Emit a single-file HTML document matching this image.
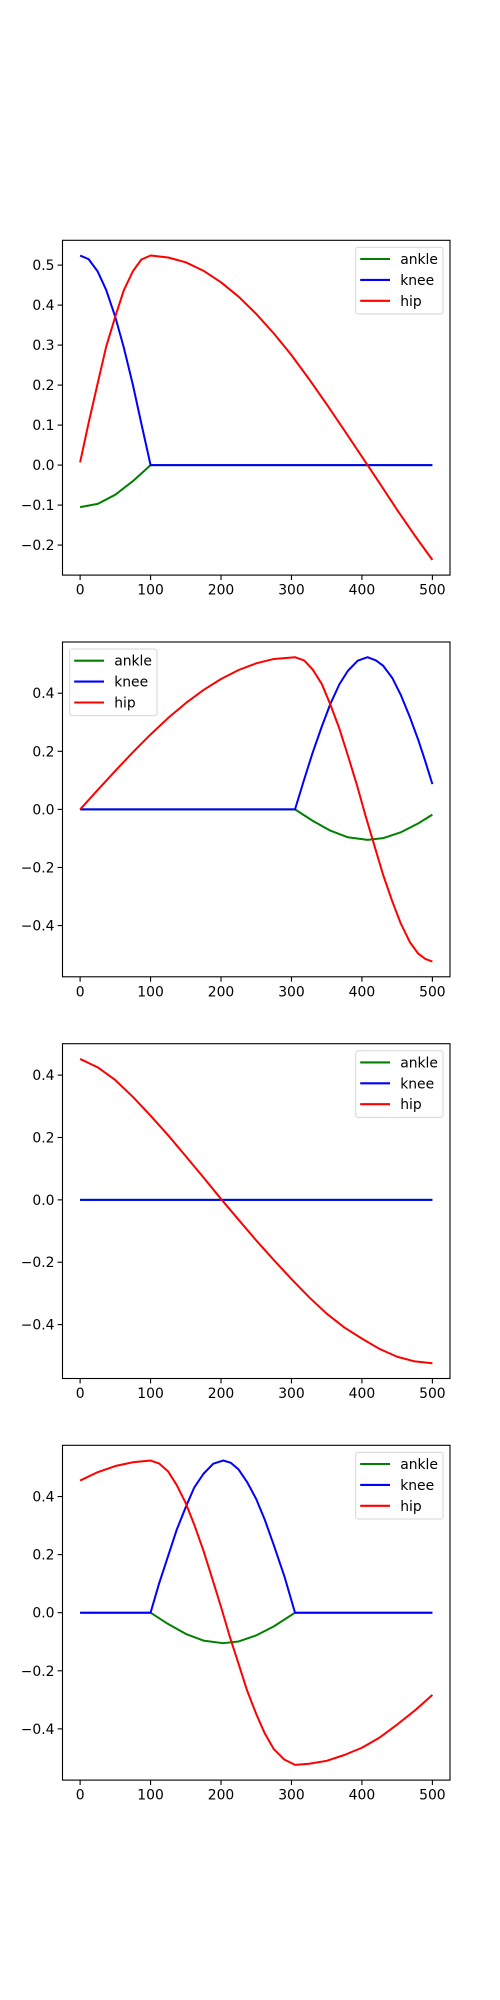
<!DOCTYPE html>
<html><head><meta charset="utf-8"><style>
html,body{margin:0;padding:0;background:#fff;}
svg{display:block;font-family:"DejaVu Sans","Liberation Sans",sans-serif;}
</style></head><body>
<svg id="fig" width="500" height="2000" xmlns="http://www.w3.org/2000/svg"></svg>
<script>
// Panel 1
const p1AnkleX=[0,25,50,75,100,500];
const p1AnkleY=[-0.105,-0.097,-0.074,-0.040,0,0];
const p1KneeX=[0,12,25,37,50,62,75,87,100,500];
const p1KneeY=[0.524,0.515,0.484,0.438,0.370,0.294,0.200,0.103,0,0];
const p1HipX=[0,12,25,37,50,62,75,87,100,125,150,175,200,225,250,275,300,325,350,375,400,425,450,475,500];
const p1HipY=[0.007,0.105,0.205,0.296,0.372,0.437,0.485,0.514,0.524,0.519,0.507,0.486,0.457,0.421,0.378,0.329,0.275,0.215,0.152,0.087,0.021,-0.045,-0.112,-0.176,-0.237];
// Panel 2
const p2AnkleX=[0,305,330,355,380,408,430,455,480,500];
const p2AnkleY=[0,0,-0.039,-0.073,-0.096,-0.105,-0.099,-0.079,-0.048,-0.018];
const p2KneeX=[0,305,318,330,343,355,368,380,394,408,420,430,443,455,468,480,490,500];
const p2KneeY=[0,0,0.103,0.195,0.285,0.362,0.431,0.477,0.512,0.524,0.513,0.495,0.453,0.395,0.318,0.239,0.165,0.087];
const p2HipX=[0,25,50,75,100,125,150,175,200,225,250,275,305,318,330,343,355,368,380,393,405,418,430,443,455,468,480,490,500];
const p2HipY=[0,0.067,0.133,0.197,0.258,0.315,0.366,0.411,0.449,0.480,0.503,0.518,0.524,0.513,0.482,0.432,0.362,0.278,0.186,0.083,-0.021,-0.127,-0.225,-0.316,-0.392,-0.457,-0.497,-0.515,-0.524];
// Panel 3
const p3AnkleX=[0,500];
const p3AnkleY=[0,0];
const p3KneeX=[0,500];
const p3KneeY=[0,0];
const p3HipX=[0,25,50,75,100,125,150,175,200,225,250,275,300,325,350,375,400,425,450,475,500];
const p3HipY=[0.452,0.425,0.384,0.330,0.270,0.207,0.140,0.072,0.003,-0.064,-0.130,-0.193,-0.254,-0.312,-0.365,-0.409,-0.445,-0.478,-0.503,-0.518,-0.524];
// Panel 4
const p4AnkleX=[0,100,125,150,175,203,225,250,275,305,500];
const p4AnkleY=[0,0,-0.039,-0.073,-0.096,-0.105,-0.099,-0.078,-0.047,0,0];
const p4KneeX=[0,100,112,125,137,150,162,175,189,203,214,225,237,250,262,275,290,305,500];
const p4KneeY=[0,0,0.100,0.196,0.285,0.364,0.431,0.478,0.513,0.524,0.516,0.493,0.450,0.391,0.321,0.232,0.125,0,0];
const p4HipX=[0,25,50,75,100,112,125,137,150,162,175,187,200,212,225,237,250,262,275,290,305,325,350,375,400,425,450,475,500];
const p4HipY=[0.455,0.484,0.505,0.518,0.524,0.514,0.486,0.440,0.377,0.303,0.214,0.122,0.020,-0.079,-0.177,-0.268,-0.349,-0.415,-0.470,-0.506,-0.524,-0.520,-0.510,-0.490,-0.465,-0.430,-0.385,-0.337,-0.283];

const panels=[
 {top:240.3,ank:[p1AnkleX,p1AnkleY],kn:[p1KneeX,p1KneeY],hip:[p1HipX,p1HipY],legend:'right'},
 {top:642,ank:[p2AnkleX,p2AnkleY],kn:[p2KneeX,p2KneeY],hip:[p2HipX,p2HipY],legend:'left'},
 {top:1043.7,ank:[p3AnkleX,p3AnkleY],kn:[p3KneeX,p3KneeY],hip:[p3HipX,p3HipY],legend:'right'},
 {top:1445.3,ank:[p4AnkleX,p4AnkleY],kn:[p4KneeX,p4KneeY],hip:[p4HipX,p4HipY],legend:'right'}
];
const xTicks=[0,100,200,300,400,500];
const NS='http://www.w3.org/2000/svg';
const fig=document.getElementById('fig');
function mk(tag,attrs,parent){const e=document.createElementNS(NS,tag);for(const k in attrs)e.setAttribute(k,attrs[k]);(parent||fig).appendChild(e);return e;}
const L=62.5,R=450,H=334.8;
function fmt(v){const s=Math.abs(v).toFixed(1);return (v<-1e-9?'\u2212':'')+s;}
panels.forEach((p,i)=>{
  const g=mk('g',{});
  
  
  const all=[].concat(p.ank[1],p.kn[1],p.hip[1]);
  let mn=Math.min(...all),mx=Math.max(...all);const m=(mx-mn)*0.05;mn-=m;mx+=m;
  const xs=v=>L+(v+25)/550*(R-L);
  const ys=v=>p.top+(mx-v)/(mx-mn)*H;
  const bottom=p.top+H;
  [['ankle',p.ank,'#008000'],['knee',p.kn,'#0000ff'],['hip',p.hip,'#ff0000']].forEach(([n,d,c])=>{
    const pts=d[0].map((x,k)=>xs(x).toFixed(2)+','+ys(d[1][k]).toFixed(2)).join(' ');
    const pl=mk('polyline',{points:pts,fill:'none',stroke:c,'stroke-width':2,'stroke-linejoin':'round'},g);
    
    
  });
  const fr=mk('rect',{x:L,y:p.top,width:R-L,height:H,fill:'none',stroke:'#000','stroke-width':1.1},g);
  
  
  xTicks.forEach(t=>{
    const x=xs(t);
    mk('line',{x1:x,x2:x,y1:bottom,y2:bottom+4.9,stroke:'#000','stroke-width':1.1},g);
    const tx=mk('text',{x:x,y:bottom+19.5,'font-size':13.9,'text-anchor':'middle',fill:'#000'},g);
    tx.textContent=t;
    
    
  });
  const step=(mx-mn)>0.9?0.2:0.1;
  for(let t=Math.ceil(mn/step-1e-9)*step;t<=mx+1e-9;t+=step){
    const y=ys(t);
    mk('line',{x1:L,x2:L-4.9,y1:y,y2:y,stroke:'#000','stroke-width':1.1},g);
    const ty=mk('text',{x:L-8,y:y+5,'font-size':13.9,'text-anchor':'end',fill:'#000'},g);
    ty.textContent=fmt(Math.round(t*10)/10);
    
    
  }
  const lx=p.legend==='right'?355.7:69.7, ly=p.top+7;
  const lg=mk('g',{},g);
  
  
  mk('rect',{x:lx,y:ly,width:87.3,height:66.7,rx:2.5,fill:'#fff','fill-opacity':0.8,stroke:'#d6d6d6','stroke-width':1},lg);
  [['ankle','#008000'],['knee','#0000ff'],['hip','#ff0000']].forEach(([n,c],k)=>{
    const yy=ly+11.7+k*20.9;
    mk('line',{x1:lx+4.5,x2:lx+34.3,y1:yy,y2:yy,stroke:c,'stroke-width':2.1},lg);
    const t=mk('text',{x:lx+44.5,y:yy+5,'font-size':13.9,fill:'#000'},lg);
    t.textContent=n;
    
    
  });
});
</script>
</body></html>
